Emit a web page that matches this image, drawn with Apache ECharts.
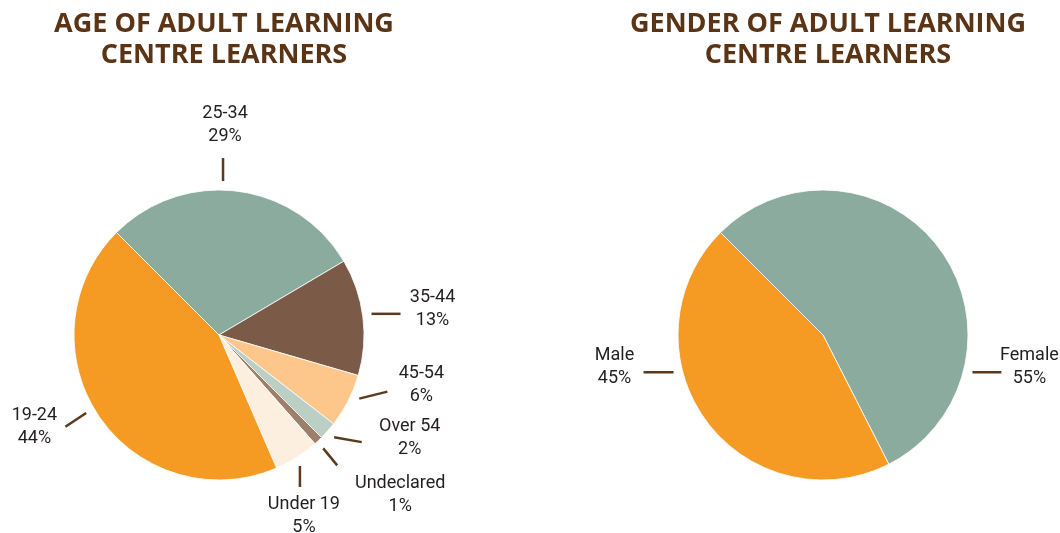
<!DOCTYPE html>
<html>
<head>
<meta charset="UTF-8">
<title>Adult Learning Centre Learners</title>
<style>
  html, body { margin: 0; padding: 0; background: #fff; }
  #main { width: 1060px; height: 533px; }
</style>
</head>
<body>
<div id="main"></div>
<script src="https://cdn.jsdelivr.net/npm/echarts@6/dist/echarts.min.js"></script>
<script>
// data
var ageCategories = ['25-34', '35-44', '45-54', 'Over 54', 'Undeclared', 'Under 19', '19-24'];
var ageValues = [29, 13, 6, 2, 1, 5, 44];
var genderCategories = ['Female', 'Male'];
var genderValues = [55, 45];

// colours
var ageColors = ['#8bab9f', '#7b5a48', '#fdc68b', '#bccfc5', '#9e7f6c', '#fdefe0', '#f59a23'];
var genderColors = ['#8bab9f', '#f59a23'];

// pie geometry
var R = 145;
var ageCenter = [219, 335];
var genderCenter = [823, 335];

// label placement: [line start angle, line direction, line length, text dx, text dy from line end]
var ageLabelSpots = [
  [88.5, 90, 23, 2, -33],
  [7.9, 0, 29, 32, -5],
  [-24.4, 14, 29, 34, -7],
  [-41.6, -10, 28, 48, -4],
  [-47.4, -50.5, 22, 63, 30],
  [-58.3, -90, 21, 4, 29],
  [210.4, 213.7, 25, -31, 0]
];
var genderLabelSpots = [
  [-14, 0, 29, 28, -5],
  [194, 180, 30, -29, -5]
];

function makeLayout(center, spots) {
  return function (params) {
    var s = spots[params.dataIndex];
    var a = s[0] * Math.PI / 180, d = s[1] * Math.PI / 180;
    var sx = center[0] + (R + 9) * Math.cos(a);
    var sy = center[1] - (R + 9) * Math.sin(a);
    var ex = sx + s[2] * Math.cos(d);
    var ey = sy - s[2] * Math.sin(d);
    return {
      x: ex + s[3],
      y: ey + s[4],
      align: 'center',
      verticalAlign: 'middle',
      labelLinePoints: [[sx, sy], [ex, ey], [ex, ey]]
    };
  };
}

function pieSeries(name, center, cats, vals, colors, spots) {
  return {
    name: name,
    type: 'pie',
    center: center,
    radius: R,
    startAngle: 135,
    clockwise: true,
    avoidLabelOverlap: false,
    data: cats.map(function (c, i) {
      return { name: c, value: vals[i], itemStyle: { color: colors[i] } };
    }),
    itemStyle: { borderColor: '#ffffff', borderWidth: 0.8 },
    label: {
      show: true,
      position: 'outside',
      width: 110,
      overflow: 'none',
      formatter: function (p) { return p.name + '\n' + p.value + '%'; },
      fontFamily: 'Roboto, sans-serif',
      fontSize: 18,
      lineHeight: 23,
      color: '#231f20',
      align: 'center'
    },
    labelLine: {
      show: true,
      length: 10,
      length2: 10,
      lineStyle: { color: '#5b3a1f', width: 2.5 }
    },
    labelLayout: makeLayout(center, spots),
    emphasis: { disabled: true }
  };
}

var myChart = echarts.init(document.getElementById('main'));

var titleStyle = {
  fontFamily: "'Open Sans', sans-serif",
  fontWeight: 'bold',
  fontSize: 27,
  lineHeight: 31,
  color: '#5b3416'
};

var option = {
  animation: false,
  title: [
    { text: 'AGE OF ADULT LEARNING\nCENTRE LEARNERS', left: ageCenter[0], top: 4, textAlign: 'center', textStyle: titleStyle },
    { text: 'GENDER OF ADULT LEARNING\nCENTRE LEARNERS', left: genderCenter[0], top: 4, textAlign: 'center', textStyle: titleStyle }
  ],
  series: [
    pieSeries('Age', ageCenter, ageCategories, ageValues, ageColors, ageLabelSpots),
    pieSeries('Gender', genderCenter, genderCategories, genderValues, genderColors, genderLabelSpots)
  ]
};

myChart.setOption(option);
</script>
</body>
</html>
